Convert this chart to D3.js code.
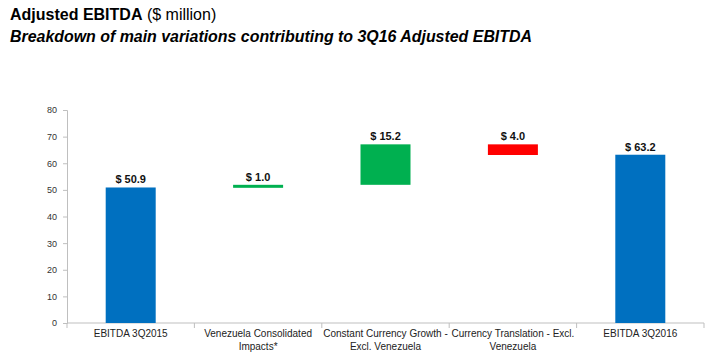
<!DOCTYPE html>
<html><head><meta charset="utf-8">
<script src="https://cdn.jsdelivr.net/npm/d3@7"></script>
<style>body{margin:0;background:#fff;} text{font-family:"Liberation Sans",Arial,sans-serif;}</style>
</head><body>
<svg id="c" width="710" height="356"></svg>
<script>
const categories = [["EBITDA 3Q2015"],["Venezuela Consolidated","Impacts*"],["Constant Currency Growth -","Excl. Venezuela"],["Currency Translation - Excl.","Venezuela"],["EBITDA 3Q2016"]];
const values = [50.9, 1.0, 15.2, -4.0, 63.2];
const kinds = ["total","delta","delta","delta","total"];
const valueLabels = ["$ 50.9","$ 1.0","$ 15.2","$ 4.0","$ 63.2"];
const yTicks = [0,10,20,30,40,50,60,70,80];

const svg = d3.select("#c");
const t = svg.append("text").attr("x",10).attr("y",20).attr("font-size",16).attr("fill","#000");
t.append("tspan").attr("font-weight","bold").text("Adjusted EBITDA");
t.append("tspan").text(" ($ million)");
svg.append("text").attr("x",10).attr("y",42).attr("font-size",16).attr("font-weight","bold").attr("font-style","italic").attr("textLength",522).attr("lengthAdjust","spacingAndGlyphs").text("Breakdown of main variations contributing to 3Q16 Adjusted EBITDA");

const x = d3.scaleBand().domain(d3.range(categories.length)).range([67,704]).paddingInner(0).paddingOuter(0);
const y = d3.scaleLinear().domain([0,80]).range([323,110]);

let run = 0;
const bars = values.map((v,i)=>{
  let lo, hi;
  if (kinds[i]==="total"){ lo=0; hi=v; run=v; }
  else { const a=run, b=run+v; lo=Math.min(a,b); hi=Math.max(a,b); run=b; }
  return {i, lo, hi, v, kind:kinds[i]};
});
const color = d => d.kind==="total" ? "#0070C0" : (d.v>=0 ? "#00B050" : "#FF0000");

const yAxis = svg.append("g").attr("transform","translate(67,0)").call(d3.axisLeft(y).tickValues(yTicks).tickSize(4).tickPadding(6));
yAxis.select(".domain").attr("stroke","#bfbfbf");
yAxis.selectAll(".tick line").attr("stroke","#bfbfbf");
yAxis.selectAll("text").attr("font-size",9).attr("fill","#333").attr("font-family","Liberation Sans, Arial, sans-serif");

const xAxisG = svg.append("g");
xAxisG.append("line").attr("x1",67).attr("x2",704).attr("y1",y(0)).attr("y2",y(0)).attr("stroke","#bfbfbf");
d3.range(categories.length+1).forEach(k=>{
  const xx = 67 + k*x.bandwidth();
  xAxisG.append("line").attr("x1",xx).attr("x2",xx).attr("y1",y(0)).attr("y2",y(0)+5).attr("stroke","#bfbfbf");
});

const bw = 50;
svg.selectAll("rect.bar").data(bars).enter().append("rect")
  .attr("x", d=>x(d.i)+x.bandwidth()/2-bw/2)
  .attr("width", bw)
  .attr("y", d=>y(d.hi))
  .attr("height", d=>Math.max(3, y(d.lo)-y(d.hi)))
  .attr("fill", color);

svg.selectAll("text.val").data(bars).enter().append("text")
  .attr("x", d=>x(d.i)+x.bandwidth()/2)
  .attr("y", d=>y(d.hi)-4)
  .attr("text-anchor","middle").attr("font-size",11).attr("font-weight","bold").attr("fill","#111")
  .text((d,i)=>valueLabels[i]);

categories.forEach((lines,i)=>{
  const tx = svg.append("text").attr("x", x(i)+x.bandwidth()/2).attr("y",337).attr("text-anchor","middle").attr("font-size",10).attr("fill","#222");
  lines.forEach((l,j)=>tx.append("tspan").attr("x", x(i)+x.bandwidth()/2).attr("dy", j===0?0:13).text(l));
});
</script>
</body></html>
